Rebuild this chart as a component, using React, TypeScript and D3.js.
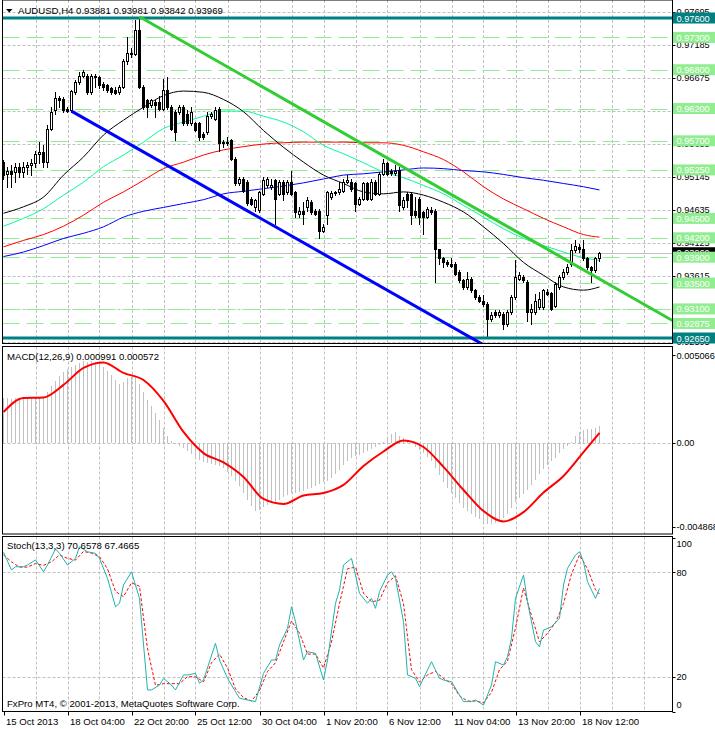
import React from "react";
import * as d3 from "d3";

// ---------- DATA ----------
const opens = [
  0.9537, 0.9519, 0.9524, 0.9522, 0.953, 0.9522, 0.953, 0.9532, 0.9535, 0.955,
  0.9553, 0.9537, 0.9589, 0.9617, 0.9637, 0.9635, 0.962, 0.9617, 0.9646, 0.9661,
  0.9671, 0.9671, 0.9646, 0.9671, 0.9669, 0.9658, 0.9656, 0.9651, 0.9649, 0.9646,
  0.9653, 0.9694, 0.9706, 0.9705, 0.9741, 0.9653, 0.9633, 0.9625, 0.963, 0.963,
  0.962, 0.9648, 0.9622, 0.9615, 0.9615, 0.9622, 0.9612, 0.9597, 0.9597, 0.9597,
  0.9581, 0.9584, 0.9608, 0.9604, 0.962, 0.9568, 0.9568, 0.9571, 0.9542, 0.9504,
  0.9511, 0.9506, 0.948, 0.9468, 0.9463, 0.9488, 0.9501, 0.9499, 0.9509, 0.9488,
  0.9506, 0.9491, 0.9506, 0.9491, 0.9457, 0.9462, 0.9468, 0.9475, 0.9462, 0.9462,
  0.9431, 0.9455, 0.9483, 0.9489, 0.9491, 0.9493, 0.9506, 0.9506, 0.9504, 0.9473,
  0.948, 0.9504, 0.948, 0.9506, 0.9488, 0.9519, 0.9535, 0.9523, 0.952, 0.9525,
  0.9468, 0.9488, 0.9488, 0.9462, 0.948, 0.946, 0.9452, 0.9463, 0.9462, 0.9402,
  0.9388, 0.9382, 0.938, 0.938, 0.9367, 0.9354, 0.9344, 0.9357, 0.9339, 0.9328,
  0.9323, 0.9318, 0.9295, 0.9305, 0.93, 0.9302, 0.9287, 0.9305, 0.9328, 0.9357,
  0.9359, 0.9351, 0.9305, 0.9305, 0.9313, 0.9313, 0.9336, 0.9334, 0.9315, 0.9344,
  0.9359, 0.9367, 0.938, 0.9401, 0.9406, 0.9403, 0.9388, 0.9375, 0.937, 0.93881,
];
const highs = [
  0.954, 0.953, 0.9532, 0.9535, 0.9535, 0.9537, 0.9537, 0.9542, 0.9555, 0.9568,
  0.9563, 0.9594, 0.9622, 0.9646, 0.964, 0.9638, 0.9622, 0.9648, 0.9664, 0.9677,
  0.9679, 0.9674, 0.9674, 0.9674, 0.9671, 0.9661, 0.9658, 0.9653, 0.9653, 0.9656,
  0.9697, 0.9731, 0.9713, 0.9757, 0.9762, 0.9656, 0.9635, 0.9635, 0.9633, 0.964,
  0.9666, 0.9669, 0.9625, 0.9617, 0.9625, 0.9625, 0.9617, 0.9622, 0.9599, 0.9599,
  0.9584, 0.9615, 0.9615, 0.9622, 0.9622, 0.9571, 0.9576, 0.9573, 0.9545, 0.9514,
  0.9514, 0.9509, 0.9483, 0.948, 0.9493, 0.9514, 0.9514, 0.9511, 0.9511, 0.9509,
  0.9509, 0.9509, 0.9524, 0.9493, 0.9468, 0.9475, 0.9483, 0.9478, 0.9465, 0.9465,
  0.9442, 0.9493, 0.9493, 0.9493, 0.9506, 0.9511, 0.9517, 0.9511, 0.9506, 0.9483,
  0.9506, 0.9506, 0.9511, 0.9509, 0.9522, 0.9542, 0.9537, 0.9527, 0.9532, 0.953,
  0.9483, 0.9491, 0.9491, 0.9483, 0.9483, 0.9462, 0.9468, 0.9468, 0.9465, 0.9403,
  0.939, 0.9385, 0.9388, 0.9382, 0.937, 0.9357, 0.9367, 0.9359, 0.9341, 0.9331,
  0.9331, 0.9321, 0.9305, 0.9308, 0.9308, 0.9305, 0.9308, 0.9331, 0.9385, 0.9367,
  0.9362, 0.9354, 0.9318, 0.9333, 0.9336, 0.9341, 0.9341, 0.9336, 0.9351, 0.9362,
  0.9372, 0.938, 0.9411, 0.9417, 0.9411, 0.9416, 0.939, 0.9377, 0.939, 0.93981,
];
const lows = [
  0.9511, 0.9499, 0.9499, 0.9506, 0.9514, 0.9514, 0.9519, 0.9517, 0.953, 0.9535,
  0.953, 0.953, 0.9586, 0.9612, 0.9622, 0.9615, 0.9615, 0.9615, 0.9643, 0.9658,
  0.9669, 0.9643, 0.9643, 0.9653, 0.9651, 0.9648, 0.9646, 0.9643, 0.9642, 0.9643,
  0.9651, 0.9689, 0.97, 0.9702, 0.9651, 0.962, 0.9607, 0.9622, 0.9607, 0.9617,
  0.9617, 0.962, 0.9586, 0.9571, 0.9612, 0.9594, 0.9594, 0.9594, 0.9585, 0.9571,
  0.9573, 0.9581, 0.9606, 0.9602, 0.9555, 0.956, 0.9563, 0.954, 0.9501, 0.9501,
  0.9491, 0.947, 0.947, 0.9462, 0.946, 0.9486, 0.9499, 0.9496, 0.9442, 0.9486,
  0.9478, 0.9488, 0.9486, 0.9452, 0.9452, 0.9442, 0.9462, 0.9457, 0.9455, 0.9419,
  0.9429, 0.9442, 0.948, 0.9486, 0.9488, 0.9491, 0.9504, 0.9493, 0.9462, 0.947,
  0.9478, 0.9478, 0.9478, 0.9486, 0.9486, 0.9517, 0.9517, 0.9517, 0.9517, 0.9462,
  0.9465, 0.9468, 0.9442, 0.9452, 0.9442, 0.9426, 0.945, 0.9457, 0.9351, 0.938,
  0.9375, 0.9377, 0.9375, 0.9362, 0.9351, 0.9341, 0.9341, 0.9336, 0.9326, 0.9321,
  0.9315, 0.9266, 0.9292, 0.9297, 0.9297, 0.9279, 0.9284, 0.9302, 0.9326, 0.9354,
  0.9351, 0.9292, 0.9287, 0.9302, 0.931, 0.931, 0.9331, 0.9308, 0.9313, 0.9341,
  0.9357, 0.9364, 0.9377, 0.9398, 0.9398, 0.9385, 0.9372, 0.9351, 0.9367, 0.93842,
];
const closes = [
  0.9517, 0.9524, 0.9519, 0.953, 0.9522, 0.953, 0.9532, 0.9535, 0.955, 0.9553,
  0.9537, 0.9589, 0.9615, 0.9637, 0.9633, 0.9617, 0.9616, 0.9647, 0.9661, 0.9671,
  0.9677, 0.9646, 0.9671, 0.9669, 0.9656, 0.9653, 0.9648, 0.9646, 0.9644, 0.9653,
  0.9694, 0.9706, 0.9705, 0.9741, 0.9653, 0.9622, 0.9622, 0.9633, 0.9625, 0.962,
  0.9648, 0.9622, 0.9589, 0.9584, 0.9622, 0.9597, 0.9597, 0.9615, 0.9587, 0.9576,
  0.9576, 0.9609, 0.9612, 0.9617, 0.9566, 0.9566, 0.9567, 0.9542, 0.9504, 0.9511,
  0.9493, 0.9474, 0.9473, 0.9478, 0.9491, 0.951, 0.9511, 0.9501, 0.948, 0.9506,
  0.9488, 0.9506, 0.9488, 0.946, 0.9462, 0.9457, 0.9478, 0.946, 0.9457, 0.9431,
  0.9437, 0.9491, 0.9489, 0.9491, 0.9496, 0.9506, 0.9509, 0.9496, 0.9473, 0.948,
  0.9504, 0.948, 0.9506, 0.9488, 0.9519, 0.9535, 0.9519, 0.952, 0.9524, 0.947,
  0.9478, 0.9478, 0.9455, 0.9455, 0.9452, 0.9452, 0.9465, 0.946, 0.9402, 0.9388,
  0.9382, 0.938, 0.9377, 0.9364, 0.9354, 0.9344, 0.9357, 0.9339, 0.9328, 0.9323,
  0.9318, 0.9295, 0.93, 0.93, 0.9305, 0.9287, 0.9305, 0.9328, 0.9359, 0.9362,
  0.9354, 0.9305, 0.931, 0.9323, 0.9326, 0.9339, 0.9333, 0.931, 0.9349, 0.9359,
  0.9367, 0.9375, 0.9401, 0.9407, 0.9403, 0.9388, 0.9375, 0.937, 0.9388, 0.93969,
];

// moving averages, read every 5 bars
const maIdx = [0, 5, 10, 15, 20, 25, 30, 35, 40, 45, 50, 55, 60, 65, 70, 75, 80, 85, 90, 95, 100, 105, 110, 115, 120, 125, 130, 135, 140, 145, 149];
const maBlack = [0.9458, 0.9468, 0.9483, 0.9517, 0.9545, 0.9579, 0.9602, 0.9622, 0.964, 0.9647, 0.9645, 0.9634, 0.9615, 0.9586, 0.956, 0.9537, 0.9517, 0.9504, 0.9491, 0.9488, 0.9491, 0.9486, 0.9475, 0.946, 0.9437, 0.9411, 0.9382, 0.9362, 0.9344, 0.9339, 0.9344];
const maGreen = [0.9438, 0.945, 0.9465, 0.9486, 0.9506, 0.953, 0.9548, 0.9568, 0.9589, 0.9599, 0.9608, 0.9616, 0.9616, 0.9608, 0.9599, 0.9584, 0.9563, 0.955, 0.9536, 0.9522, 0.9513, 0.9501, 0.9488, 0.947, 0.9452, 0.9434, 0.9419, 0.9408, 0.9398, 0.9389, 0.9385];
const maRed = [0.9406, 0.9416, 0.9425, 0.9438, 0.9455, 0.9475, 0.9491, 0.9509, 0.9527, 0.9537, 0.9548, 0.9556, 0.9561, 0.9565, 0.9567, 0.9568, 0.9568, 0.9568, 0.9567, 0.9567, 0.9563, 0.9553, 0.9541, 0.9522, 0.9499, 0.948, 0.9465, 0.945, 0.9437, 0.9425, 0.9421];
const maBlue = [0.9391, 0.9398, 0.9408, 0.9419, 0.9427, 0.9437, 0.9452, 0.9461, 0.9467, 0.9473, 0.9479, 0.9488, 0.9492, 0.9496, 0.95, 0.9505, 0.9511, 0.9517, 0.9519, 0.9522, 0.9525, 0.9528, 0.9527, 0.9524, 0.9522, 0.9518, 0.9513, 0.9509, 0.9504, 0.9499, 0.9494];

// MACD histogram per bar
const macdHist = [
  0.00258, 0.00258, 0.00253, 0.00258, 0.00258, 0.00264, 0.00264, 0.00264, 0.00258, 0.00258,
  0.00264, 0.00293, 0.00328, 0.00357, 0.00386, 0.00409, 0.00426, 0.00438, 0.00449, 0.00461,
  0.00472, 0.00466, 0.00472, 0.00466, 0.00455, 0.00438, 0.00414, 0.00391, 0.00362, 0.00339,
  0.00351, 0.00374, 0.0038, 0.00386, 0.00339, 0.00293, 0.00247, 0.00212, 0.00172, 0.00131,
  0.00085, 0.00039, 0.0001, -0.00008, -0.00019, -0.00031, -0.00048, -0.00065, -0.00083, -0.001,
  -0.00112, -0.00117, -0.00123, -0.00129, -0.00135, -0.00146, -0.00169, -0.00192, -0.00221, -0.0025,
  -0.00291, -0.00331, -0.00366, -0.00395, -0.00389, -0.00372, -0.0036, -0.00349, -0.00343, -0.00331,
  -0.00314, -0.00302, -0.00291, -0.00291, -0.00285, -0.00279, -0.00268, -0.00262, -0.0025, -0.00239,
  -0.00227, -0.00221, -0.00204, -0.00181, -0.00158, -0.00129, -0.00106, -0.00088, -0.00077, -0.00071,
  -0.0006, -0.00048, -0.00036, -0.00025, -0.00013, 0.00004, 0.00033, 0.0005, 0.00062, 0.00039,
  0.00027, 0.00016, -0.00002, -0.00025, -0.00042, -0.0006, -0.00083, -0.00106, -0.00146, -0.00187,
  -0.00227, -0.00262, -0.00291, -0.0032, -0.00349, -0.00377, -0.00395, -0.00412, -0.00429, -0.00441,
  -0.00458, -0.0047, -0.00472, -0.00466, -0.00453, -0.00435, -0.00412, -0.00377, -0.00343, -0.0032,
  -0.00297, -0.00273, -0.00244, -0.00216, -0.00181, -0.00152, -0.00129, -0.00106, -0.00088, -0.0006,
  -0.00036, -0.00019, 0.00004, 0.00039, 0.00062, 0.00073, 0.00079, 0.00079, 0.00085, 0.000991,
];
const macdSignal = [0.00177, 0.00258, 0.00261, 0.00334, 0.00432, 0.00464, 0.00403, 0.00362, 0.00241, 0.00062, -0.0006, -0.00114, -0.00198, -0.00325, -0.00354, -0.00305, -0.00291, -0.00244, -0.00135, -0.00051, 0.00013, -0.00025, -0.0014, -0.00273, -0.00395, -0.00455, -0.00401, -0.00288, -0.00192, -0.00054, 0.000572];

// Stochastic
const stochMainIdx = [0, 2, 3, 5, 6, 8, 10, 11, 13, 14, 16, 18, 19, 21, 23, 24, 26, 28, 29, 30, 32, 34, 36, 37, 39, 40, 42, 43, 45, 46, 48, 49, 50, 53, 54, 56, 57, 59, 61, 63, 65, 67, 68, 69, 71, 72, 73, 75, 76, 78, 80, 81, 83, 84, 85, 87, 88, 89, 91, 92, 93, 94, 96, 97, 98, 100, 101, 103, 104, 106, 107, 109, 110, 112, 115, 117, 118, 120, 122, 123, 125, 126, 127, 128, 130, 131, 133, 134, 135, 137, 139, 140, 141, 143, 144, 145, 146, 148, 149];
const stochMain = [91.5, 81.3, 83.2, 83.2, 84.2, 87.1, 80.3, 84.2, 93.4, 90.9, 84.2, 88.0, 94.7, 91.8, 90.9, 88.0, 76.5, 60.2, 62.2, 72.7, 80.3, 65.0, 12.4, 12.4, 15.2, 19.1, 15.2, 12.4, 21.0, 21.0, 21.9, 16.2, 18.1, 39.2, 29.6, 19.1, 15.2, 7.6, 6.6, 5.7, 21.9, 29.6, 29.6, 38.2, 47.8, 60.2, 51.6, 29.6, 34.4, 33.4, 18.1, 29.6, 62.2, 69.8, 84.2, 88.0, 78.4, 67.9, 62.2, 65.0, 59.3, 68.9, 78.4, 80.3, 76.5, 51.6, 21.0, 19.1, 14.3, 23.9, 28.6, 19.1, 18.1, 17.1, 5.7, 5.7, 6.6, 3.7, 15.2, 28.6, 26.7, 31.5, 42.1, 65.0, 78.4, 63.1, 40.1, 37.2, 46.8, 48.7, 53.6, 72.7, 82.3, 89.9, 91.8, 86.1, 74.6, 65.0, 70.6578];
const stochSigIdx = [0, 2, 4, 6, 8, 10, 12, 14, 16, 18, 20, 22, 24, 26, 28, 30, 32, 34, 36, 38, 40, 42, 44, 46, 48, 50, 52, 54, 56, 58, 60, 62, 64, 66, 68, 70, 72, 74, 76, 78, 80, 82, 84, 86, 88, 90, 92, 94, 96, 98, 100, 102, 104, 106, 108, 110, 112, 114, 116, 118, 120, 122, 124, 126, 128, 130, 132, 134, 136, 138, 140, 142, 144, 146, 148, 149];
const stochSig = [90, 86, 83, 83, 85, 84, 86, 90, 88, 87, 92, 91, 89, 82, 69, 66, 74, 72, 36, 15, 16, 16, 16, 20, 20, 17, 28, 33, 25, 13, 8, 6, 12, 23, 28, 40, 52, 45, 33, 33, 25, 40, 62, 82, 83, 68, 63, 64, 74, 78, 62, 24, 17, 21, 23, 19, 16, 9, 6, 6, 5, 11, 24, 29, 48, 71, 55, 40, 45, 51, 62, 79, 90, 82, 70, 67.4665];

// levels / ticks / labels
const priceTicks = [0.97695, 0.97185, 0.96675, 0.96165, 0.95655, 0.95145, 0.94635, 0.94125, 0.93615, 0.93105, 0.92595];
const greenLevels = [0.973, 0.968, 0.962, 0.957, 0.9525, 0.945, 0.942, 0.939, 0.935, 0.931, 0.92875];
const tealLevels = [0.976, 0.9265];
const currentPrice = 0.93969;
const greenTrendIdx = [34, 149];
const greenTrendPrice = [0.9762, 0.93563];
const blueTrendIdx = [17, 117];
const blueTrendPrice = [0.9616, 0.9265];
const timeLabels = ["15 Oct 2013", "18 Oct 04:00", "22 Oct 20:00", "25 Oct 12:00", "30 Oct 04:00", "1 Nov 20:00", "6 Nov 12:00", "11 Nov 04:00", "13 Nov 20:00", "18 Nov 12:00"];
const timeLabelBars = [0, 16, 32, 48, 64, 80, 96, 112, 128, 144];
const gridBars = [8, 16, 24, 32, 40, 48, 56, 64, 72, 80, 88, 96, 104, 112, 120, 128, 136, 144, 152, 160];
const macdTicks = [0.005066, 0, -0.004868];
const macdTickLabels = ["0.005066", "0.00", "-0.004868"];
const stochTicks = [100, 80, 20, 0];

export default function App() {
  const font = "'Liberation Sans', Arial, sans-serif";
  const fs = 9.6;
  const afs = 9.2;
  const L = 2.5, R = 672.5;
  const mainTop = 0, mainBot = 343.5;
  const macdTop = 346.5, macdBot = 534;
  const stTop = 536.5, stBot = 711.5;
  const tx = 676.5;

  const x = d3.scaleLinear().domain([0, 149]).range([3.5, 599.5]);
  const yP = d3.scaleLinear().domain([0.9265, 0.976]).range([338, 18]);
  const yM = d3.scaleLinear().domain([0, 0.005066]).range([442.7, 355]);
  const yS = d3.scaleLinear().domain([0, 100]).range([711.5, 537.5]);
  const px = (v: number) => Math.round(v) + 0.5;

  const maLine = (vals: number[]) =>
    d3.line<number>().x((_, k) => x(maIdx[k])).y((v) => yP(v)).curve(d3.curveMonotoneX)(vals) || "";
  const sigLine =
    d3.line<number>().x((_, k) => x(maIdx[k])).y((v) => yM(v)).curve(d3.curveMonotoneX)(macdSignal) || "";
  const stMain =
    d3.line<number>().x((_, k) => x(stochMainIdx[k])).y((v) => yS(v))(stochMain) || "";
  const stSig =
    d3.line<number>().x((_, k) => x(stochSigIdx[k])).y((v) => yS(v))(stochSig) || "";

  const trend = (idx: number[], pr: number[]) => {
    const slope = (pr[1] - pr[0]) / (idx[1] - idx[0]);
    const endI = 172;
    return `M${x(idx[0])},${yP(pr[0])}L${x(endI)},${yP(pr[0] + slope * (endI - idx[0]))}`;
  };

  const gridColor = "#c0c0c0";
  const gridDash = "3 2";

  const vGrid = (top: number, bot: number, key: string) =>
    gridBars.map((b) => (
      <line key={key + b} x1={px(x(b))} x2={px(x(b))} y1={top} y2={bot} stroke={gridColor} strokeDasharray={gridDash} />
    ));

  return (
    <svg width={715} height={729} style={{ position: "absolute", left: 0, top: 0, display: "block", background: "#fff" }}
      fontFamily={font} fontSize={fs}>
      <defs>
        <clipPath id="cMain"><rect x={L} y={mainTop} width={R - L} height={mainBot - mainTop} /></clipPath>
        <clipPath id="cMacd"><rect x={L} y={macdTop} width={R - L} height={macdBot - macdTop} /></clipPath>
        <clipPath id="cSt"><rect x={L} y={stTop} width={R - L} height={stBot - stTop} /></clipPath>
      </defs>
      <rect x={0} y={0} width={715} height={729} fill="#fff" />

      {/* MAIN PANEL */}
      <g clipPath="url(#cMain)">
        {vGrid(mainTop, mainBot, "gm")}
        {priceTicks.map((p) => (
          <line key={"hg" + p} x1={L} x2={R} y1={px(yP(p))} y2={px(yP(p))} stroke={gridColor} strokeDasharray={gridDash} />
        ))}
        {greenLevels.map((p) => (
          <line key={"gl" + p} x1={L} x2={R} y1={px(yP(p))} y2={px(yP(p))} stroke="#90ee90" strokeDasharray="17 7" />
        ))}
        <line x1={L} x2={R} y1={px(yP(currentPrice))} y2={px(yP(currentPrice))} stroke="#c0c0c0" />
        <path d={maLine(maBlue)} fill="none" stroke="#0000ff" strokeWidth={1} />
        <path d={maLine(maRed)} fill="none" stroke="#ff0000" strokeWidth={1} />
        <path d={maLine(maGreen)} fill="none" stroke="#00fa9a" strokeWidth={1} />
        <path d={maLine(maBlack)} fill="none" stroke="#000" strokeWidth={1} />
        {opens.map((o, i) => {
          const c = closes[i];
          const cx = x(i);
          const top = Math.round(yP(Math.max(o, c)));
          const bot = Math.round(yP(Math.min(o, c)));
          const bull = c >= o;
          return (
            <g key={"c" + i}>
              <line x1={cx} x2={cx} y1={Math.round(yP(highs[i]))} y2={Math.round(yP(lows[i])) + 1} stroke="#000" />
              {bot - top >= 1 ? (
                <rect x={cx - 1} y={top + 0.5} width={2} height={bot - top} fill={bull ? "#fff" : "#000"} stroke="#000" />
              ) : (
                <line x1={cx - 2} x2={cx + 2} y1={top + 0.5} y2={top + 0.5} stroke="#000" />
              )}
            </g>
          );
        })}
        {tealLevels.map((p) => (
          <line key={"tl" + p} x1={L} x2={R} y1={yP(p)} y2={yP(p)} stroke="#008080" strokeWidth={3} />
        ))}
        <path d={trend(greenTrendIdx, greenTrendPrice)} stroke="#32cd32" strokeWidth={3} fill="none" />
        <path d={trend(blueTrendIdx, blueTrendPrice)} stroke="#0000ff" strokeWidth={3} fill="none" />
      </g>

      {/* MACD PANEL */}
      <g clipPath="url(#cMacd)">
        {vGrid(macdTop, macdBot, "gmc")}
        <line x1={L} x2={R} y1={px(yM(0))} y2={px(yM(0))} stroke={gridColor} strokeDasharray={gridDash} />
        {macdHist.map((v, i) => (
          <line key={"h" + i} x1={x(i)} x2={x(i)} y1={Math.round(yM(0))} y2={Math.round(yM(v))} stroke="#c0c0c0" />
        ))}
        <path d={sigLine} fill="none" stroke="#ff0000" strokeWidth={2} />
      </g>

      {/* STOCH PANEL */}
      <g clipPath="url(#cSt)">
        {vGrid(stTop, stBot, "gs")}
        {[80, 20].map((v) => (
          <line key={"sg" + v} x1={L} x2={R} y1={px(yS(v))} y2={px(yS(v))} stroke={gridColor} strokeDasharray={gridDash} />
        ))}
        <path d={stSig} fill="none" stroke="#ff0000" strokeDasharray="3 2" />
        <path d={stMain} fill="none" stroke="#20b2aa" />
      </g>

      {/* frames */}
      <rect x={L} y={mainTop} width={R - L} height={mainBot - mainTop} fill="none" stroke="#000" />
      <rect x={L} y={macdTop} width={R - L} height={macdBot - macdTop} fill="none" stroke="#000" />
      <rect x={L} y={stTop} width={R - L} height={stBot - stTop} fill="none" stroke="#000" />

      {/* price axis */}
      <g fontSize={afs}>
        {priceTicks.map((p) => (
          <g key={"pt" + p}>
            <line x1={R} x2={R + 3} y1={px(yP(p))} y2={px(yP(p))} stroke="#000" />
            <text x={tx} y={yP(p) + 3.5} fill="#000">{p.toFixed(5)}</text>
          </g>
        ))}
        <rect x={673} y={yP(currentPrice) - 5.5} width={42} height={11} fill="#000" />
        <text x={tx} y={yP(currentPrice) + 3.5} fill="#fff">{currentPrice.toFixed(5)}</text>
        {greenLevels.map((p) => (
          <g key={"gb" + p}>
            <rect x={673} y={yP(p) - 5.5} width={42} height={11} fill="#90ee90" />
            <text x={tx} y={yP(p) + 3.5} fill="#fff">{p.toFixed(5)}</text>
          </g>
        ))}
        {tealLevels.map((p) => (
          <g key={"tb" + p}>
            <rect x={673} y={yP(p) - 5.5} width={42} height={11} fill="#008080" />
            <text x={tx} y={yP(p) + 3.5} fill="#fff">{p.toFixed(5)}</text>
          </g>
        ))}

        {/* macd axis */}
        {macdTicks.map((v, k) => (
          <g key={"mt" + k}>
            <line x1={R} x2={R + 3} y1={px(yM(v))} y2={px(yM(v))} stroke="#000" />
            <text x={tx} y={yM(v) + 3.5} fill="#000">{macdTickLabels[k]}</text>
          </g>
        ))}

        {/* stoch axis */}
        {stochTicks.map((v) => {
          const yy = Math.min(Math.max(yS(v), 543), 704);
          return (
            <g key={"st" + v}>
              <line x1={R} x2={R + 3} y1={px(yS(v))} y2={px(yS(v))} stroke="#000" />
              <text x={tx} y={yy + 3.5} fill="#000">{v}</text>
            </g>
          );
        })}
      </g>

      {/* time axis */}
      {timeLabelBars.map((b, k) => (
        <g key={"tx" + b}>
          <line x1={px(x(b))} x2={px(x(b))} y1={stBot} y2={stBot + 4} stroke="#000" />
          <text x={px(x(b)) + 1.5} y={724.5} fill="#000">{timeLabels[k]}</text>
        </g>
      ))}

      {/* titles */}
      <path d="M6,9 L12.5,9 L9.25,12.5 Z" fill="#000" />
      <text x={18} y={14} fill="#000">AUDUSD,H4  0.93881 0.93981 0.93842 0.93969</text>
      <text x={7} y={359.5} fill="#000">MACD(12,26,9) 0.000991 0.000572</text>
      <text x={7} y={549} fill="#000">Stoch(13,3,3) 70.6578 67.4665</text>
      <text x={7} y={706.5} fill="#000">FxPro MT4, © 2001-2013, MetaQuotes Software Corp.</text>
    </svg>
  );
}
